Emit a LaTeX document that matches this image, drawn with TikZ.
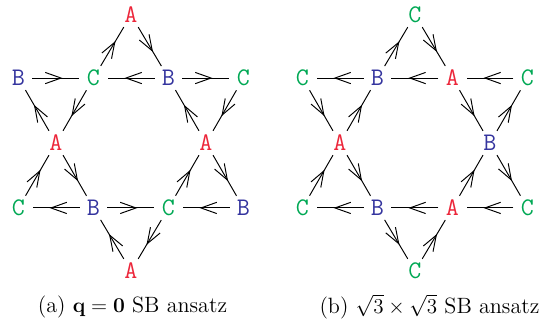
\documentclass[tikz,border=0pt]{standalone}
\usepackage{amsmath}
\usetikzlibrary{arrows.meta, decorations.markings}

\definecolor{siteA}{RGB}{236,38,58}
\definecolor{siteB}{RGB}{52,52,158}
\definecolor{siteC}{RGB}{0,168,84}

\begin{document}
\begin{tikzpicture}[
  site/.style={
    circle, inner sep=1.4pt,
    font=\Large\ttfamily
  },
  sA/.style={site, text=siteA},
  sB/.style={site, text=siteB},
  sC/.style={site, text=siteC},
  bond/.style={
    line width=0.55pt,
    postaction={decorate},
    decoration={markings,
      mark=at position 0.64 with {\arrow{Straight Barb[length=9pt, width=6.4pt, line width=0.55pt]}}}
  },
  subcap/.style={font=\fontsize{12.6}{15}\selectfont, inner sep=0pt}
]
  \useasboundingbox (0,0) rectangle (10.82,6.56);

  % (a) q = 0
  \begin{scope}[shift={(2.62,3.70)}]
    \node[sA] (a1)  at (0,2.56)       {A};
    \node[sB] (a2)  at (-2.25,1.299)  {B};
    \node[sC] (a3)  at (-0.75,1.299)  {C};
    \node[sB] (a4)  at (0.75,1.299)   {B};
    \node[sC] (a5)  at (2.25,1.299)   {C};
    \node[sA] (a6)  at (-1.5,0)       {A};
    \node[sA] (a7)  at (1.5,0)        {A};
    \node[sC] (a8)  at (-2.25,-1.299) {C};
    \node[sB] (a9)  at (-0.75,-1.299) {B};
    \node[sC] (a10) at (0.75,-1.299)  {C};
    \node[sB] (a11) at (2.25,-1.299)  {B};
    \node[sA] (a12) at (0,-2.56)      {A};

    \draw[bond] (a1) -- (a4);
    \draw[bond] (a4) -- (a3);
    \draw[bond] (a3) -- (a1);
    \draw[bond] (a6) -- (a2);
    \draw[bond] (a2) -- (a3);
    \draw[bond] (a3) -- (a6);
    \draw[bond] (a7) -- (a4);
    \draw[bond] (a4) -- (a5);
    \draw[bond] (a5) -- (a7);
    \draw[bond] (a6) -- (a9);
    \draw[bond] (a9) -- (a8);
    \draw[bond] (a8) -- (a6);
    \draw[bond] (a7) -- (a11);
    \draw[bond] (a11) -- (a10);
    \draw[bond] (a10) -- (a7);
    \draw[bond] (a12) -- (a9);
    \draw[bond] (a9) -- (a10);
    \draw[bond] (a10) -- (a12);
  \end{scope}

  % (b) sqrt3 x sqrt3
  \begin{scope}[shift={(8.30,3.70)}]
    \node[sC] (b1)  at (0,2.56)       {C};
    \node[sC] (b2)  at (-2.25,1.299)  {C};
    \node[sB] (b3)  at (-0.75,1.299)  {B};
    \node[sA] (b4)  at (0.75,1.299)   {A};
    \node[sC] (b5)  at (2.25,1.299)   {C};
    \node[sA] (b6)  at (-1.5,0)       {A};
    \node[sB] (b7)  at (1.5,0)        {B};
    \node[sC] (b8)  at (-2.25,-1.299) {C};
    \node[sB] (b9)  at (-0.75,-1.299) {B};
    \node[sA] (b10) at (0.75,-1.299)  {A};
    \node[sC] (b11) at (2.25,-1.299)  {C};
    \node[sC] (b12) at (0,-2.56)      {C};

    \draw[bond] (b1) -- (b4);
    \draw[bond] (b4) -- (b3);
    \draw[bond] (b3) -- (b1);
    \draw[bond] (b6) -- (b3);
    \draw[bond] (b3) -- (b2);
    \draw[bond] (b2) -- (b6);
    \draw[bond] (b4) -- (b7);
    \draw[bond] (b7) -- (b5);
    \draw[bond] (b5) -- (b4);
    \draw[bond] (b6) -- (b9);
    \draw[bond] (b9) -- (b8);
    \draw[bond] (b8) -- (b6);
    \draw[bond] (b10) -- (b7);
    \draw[bond] (b7) -- (b11);
    \draw[bond] (b11) -- (b10);
    \draw[bond] (b10) -- (b9);
    \draw[bond] (b9) -- (b12);
    \draw[bond] (b12) -- (b10);
  \end{scope}

  \node[subcap] (capa) at (2.65,0.42) {(a) $\mathbf{q}=\mathbf{0}$ SB ansatz};
  \node[subcap] (capb) at (8.59,0.42) {(b) $\sqrt{3}\times\sqrt{3}$ SB ansatz};
\end{tikzpicture}
\end{document}
